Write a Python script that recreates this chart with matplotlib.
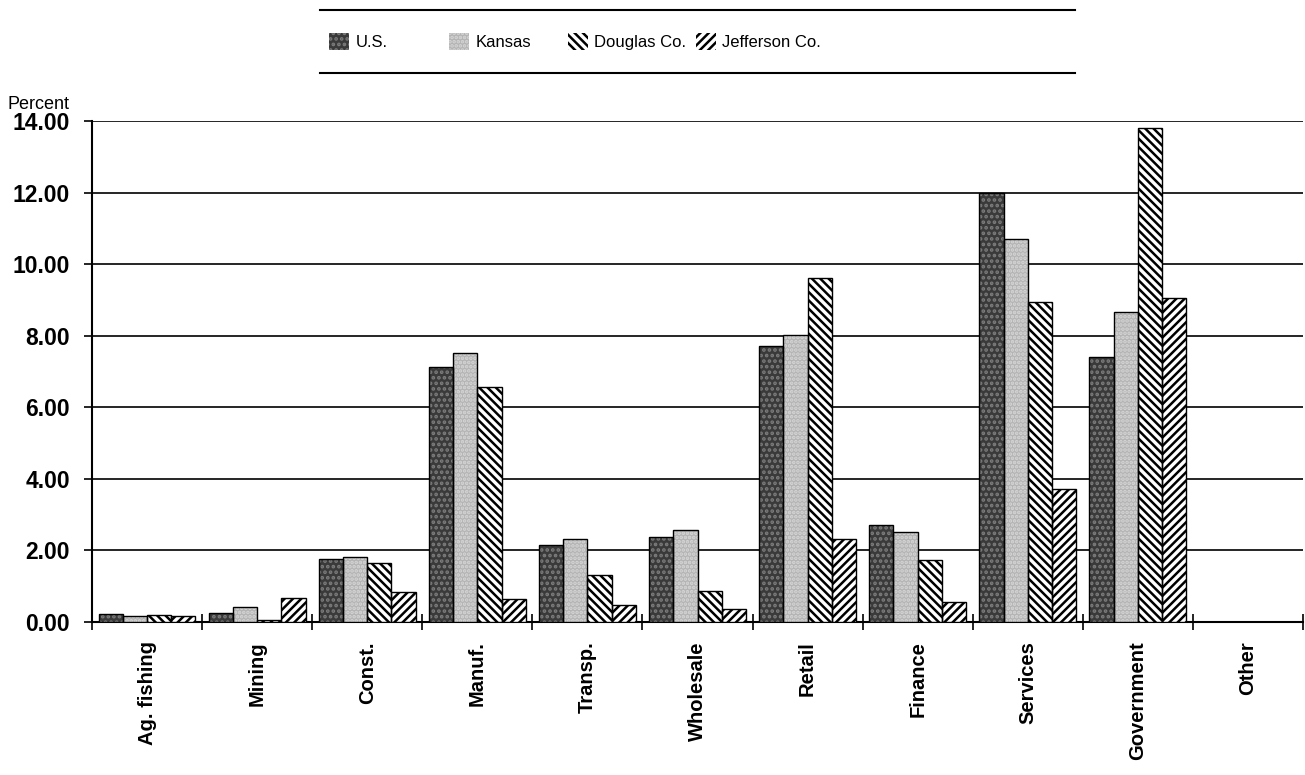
import matplotlib
matplotlib.use("Agg")
import matplotlib.pyplot as plt
import numpy as np
from matplotlib.lines import Line2D

# Data
categories = ["Ag. fishing", "Mining", "Const.", "Manuf.", "Transp.", "Wholesale",
              "Retail", "Finance", "Services", "Government", "Other"]
us = [0.21, 0.25, 1.75, 7.12, 2.15, 2.38, 7.72, 2.70, 12.00, 7.40, 0.0]
kansas = [0.18, 0.41, 1.82, 7.52, 2.33, 2.57, 8.03, 2.52, 10.69, 8.66, 0.0]
douglas = [0.20, 0.05, 1.65, 6.57, 1.32, 0.88, 9.60, 1.72, 8.93, 13.80, 0.0]
jefferson = [0.18, 0.68, 0.85, 0.65, 0.48, 0.35, 2.32, 0.57, 3.71, 9.06, 0.0]
series_names = ["U.S.", "Kansas", "Douglas Co.", "Jefferson Co."]
y_ticks = [0, 2, 4, 6, 8, 10, 12, 14]

plt.rcParams["font.family"] = ["Liberation Sans", "DejaVu Sans"]
plt.rcParams["hatch.linewidth"] = 1.8

fig = plt.figure(figsize=(13.05, 7.75), dpi=100)
ax = fig.add_axes([0.0705, 0.1974, 0.928, 0.6465])

x = np.arange(len(categories))
width = 0.22
offsets = [-0.33, -0.11, 0.11, 0.33]
styles = [
    dict(color="#3a3a3a", hatch="...", hatch_edge="#7c7c7c"),
    dict(color="#b4b4b4", hatch="....", hatch_edge="#d6d6d6"),
    dict(color="white", hatch="\\\\\\\\", hatch_edge="black"),
    dict(color="white", hatch="////", hatch_edge="black"),
]

handles = []
for vals, off, st in zip([us, kansas, douglas, jefferson], offsets, styles):
    ax.bar(x + off, vals, width, color=st["color"], hatch=st["hatch"],
           edgecolor=st["hatch_edge"], linewidth=0, zorder=3)
    ax.bar(x + off, vals, width, fill=False, edgecolor="black",
           linewidth=1.0, zorder=4)
    handles.append(plt.Rectangle((0, 0), 1, 1, facecolor=st["color"], hatch=st["hatch"],
                                 edgecolor=st["hatch_edge"], linewidth=0))

ax.set_xlim(-0.5, 10.5)
ax.set_ylim(0, 14)
ax.set_yticks(y_ticks)
ax.set_yticklabels([f"{v:.2f}" for v in y_ticks], fontsize=16.5, fontweight="bold")
ax.yaxis.grid(True, color="black", linewidth=1.2, zorder=0)
ax.set_axisbelow(True)

ax.set_xticks(x)
ax.set_xticklabels(categories, rotation=90, fontsize=14.5, fontweight="bold")
ax.set_xticks(np.arange(-0.5, 11, 1), minor=True)
ax.tick_params(axis="x", which="major", length=0, pad=14)
ax.tick_params(axis="x", which="minor", direction="inout", length=12, width=1.2)
ax.tick_params(axis="y", direction="out", length=6, width=1.2, pad=10)

for side in ["top", "right"]:
    ax.spines[side].set_visible(False)
ax.spines["left"].set_linewidth(1.5)
ax.spines["bottom"].set_linewidth(1.5)

fig.text(0.006, 0.859, "Percent", fontsize=13)

# legend strip with rules above and below
fig.add_artist(Line2D([0.245, 0.824], [0.987, 0.987], color="black", linewidth=1.5))
fig.add_artist(Line2D([0.245, 0.824], [0.906, 0.906], color="black", linewidth=1.5))
legend_x = [0.247, 0.339, 0.430, 0.528]
for h, name, lx in zip(handles, series_names, legend_x):
    fig.legend([h], [name], loc="center left", bbox_to_anchor=(lx, 0.946),
               frameon=False, handlelength=1.2, handleheight=1.2,
               handletextpad=0.4, borderaxespad=0, fontsize=12)

plt.savefig("out.png", dpi=100)
